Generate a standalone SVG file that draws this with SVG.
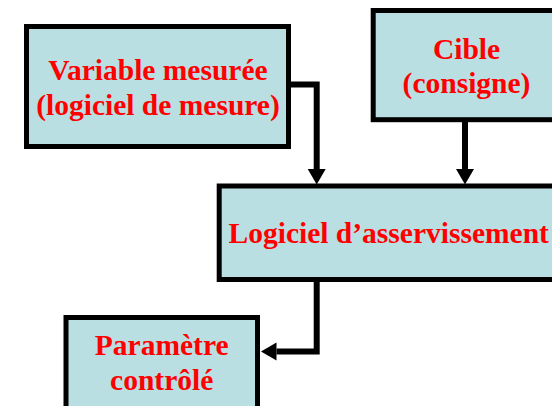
<svg xmlns="http://www.w3.org/2000/svg" width="552" height="406" viewBox="0 0 552 406">
  <style>
    .box { fill: #badfe2; stroke: #000; stroke-width: 5; }
    .label { font-family: "Liberation Serif", "Times New Roman", serif; font-weight: bold; font-size: 29.5px; fill: #ff0000; text-anchor: middle; }
    .wire { fill: none; stroke: #000; stroke-width: 6; stroke-linejoin: miter; stroke-linecap: butt; marker-end: url(#head); }
  </style>
  <defs>
    <marker id="head" markerUnits="userSpaceOnUse" markerWidth="16" markerHeight="18" refX="0" refY="9" orient="auto" overflow="visible">
      <path d="M0,0 L15.5,9 L0,18 Z" fill="#000"/>
    </marker>
  </defs>
  <rect width="552" height="406" fill="#fff"/>

  <g id="connectors">
    <path class="wire" d="M288.5,84.5 H316.7 V169"/>
    <path class="wire" d="M465,119.7 V169"/>
    <path class="wire" d="M316.7,279.5 V351.5 H276.5"/>
  </g>

  <g id="variable-mesuree">
    <rect class="box" x="26.5" y="26.5" width="262" height="120"/>
    <text class="label" x="158" y="80">Variable mesurée</text>
    <text class="label" x="158" y="115">(logiciel de mesure)</text>
  </g>

  <g id="cible">
    <rect class="box" x="373.2" y="10.5" width="186.6" height="109.2"/>
    <text class="label" x="466.5" y="59">Cible</text>
    <text class="label" x="466.5" y="93">(consigne)</text>
  </g>

  <g id="logiciel-asservissement">
    <rect class="box" x="219.2" y="186" width="339" height="93.5"/>
    <text class="label" x="388.7" y="243.3">Logiciel d’asservissement</text>
  </g>

  <g id="parametre-controle">
    <rect class="box" x="66" y="317.5" width="191.5" height="110"/>
    <text class="label" x="161.7" y="355">Paramètre</text>
    <text class="label" x="161.7" y="390">contrôlé</text>
  </g>
</svg>
